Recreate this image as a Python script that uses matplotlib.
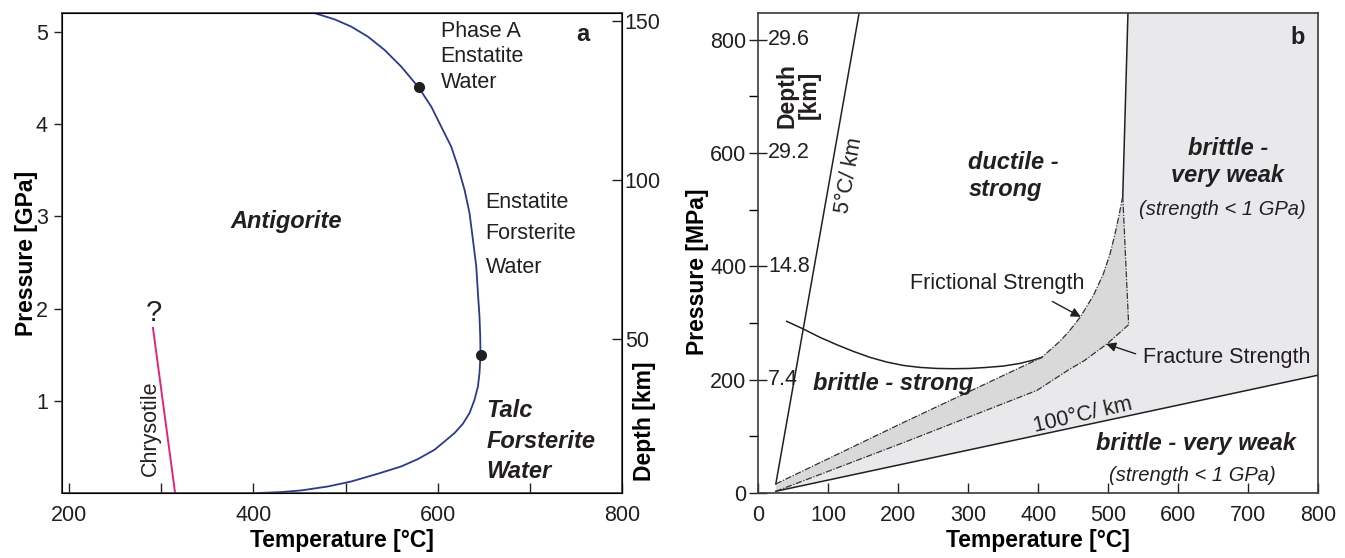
import matplotlib
matplotlib.use("Agg")
import matplotlib.pyplot as plt
import numpy as np

plt.rcParams['font.family'] = ['Liberation Sans', 'DejaVu Sans']

# ---- panel a: serpentine stability ----
antig_T = [405, 430, 452, 481.0, 506.2, 535.1, 560.4, 578.5, 596.5, 607.4, 618.2, 627.3, 634.5,
           639.9, 643.6, 645.3, 646.4, 646.1, 645.3, 643.6, 641.8, 638.2, 634.5, 629.1, 621.9,
           614.6, 603.8, 593.0, 579.2, 560.4, 542.3, 524.3, 506.2, 488.1, 466]
antig_P = [0.0, 0.01, 0.028, 0.071, 0.125, 0.209, 0.288, 0.368, 0.469, 0.559, 0.650, 0.751, 0.867,
           1.011, 1.155, 1.300, 1.495, 1.697, 1.914, 2.167, 2.456, 2.745, 3.035, 3.287, 3.540,
           3.757, 3.973, 4.190, 4.400, 4.624, 4.805, 4.949, 5.058, 5.137, 5.206]
dot_T = [579.2, 646.4]
dot_P = [4.40, 1.495]
chrys_T = [291, 315]
chrys_P = [1.79, 0.0]
depth_ticks_a = [50, 100, 150]

# ---- panel b: strength regimes ----
grad5_T = [25, 144]
grad5_P = [16, 847]
grad100_T = [25, 800]
grad100_P = [3, 208]
bd_T = [40.6, 64.3, 88.1, 112, 135.7, 159.6, 183.4, 207.1, 231, 254.9, 278.6, 302.4, 326.3,
        350, 373.9, 392.9, 404.9]
bd_P = [302.9, 289.4, 274.6, 261.7, 249.9, 239.3, 231.1, 225.1, 221.6, 219.8, 219.3, 219.8,
        221.6, 224, 228.7, 234.6, 239.3]
fric_T = [25, 207.6, 404.9, 431, 445, 459.6, 478.6, 492.9, 502.4, 509.6, 515.7, 520.6]
fric_P = [16, 124.6, 239.3, 268, 287, 310, 348.4, 386.7, 422, 457.5, 492.8, 524]
fract_T = [25, 207.6, 398, 445, 465, 498, 529]
fract_P = [3, 89, 181, 218.7, 233, 263, 297]
edge_T = [528, 520.6]     # solid boundary from top down
edge_P = [847, 524]
depth_P = [200, 400, 600, 800]
depth_lbl = ['7.4', '14.8', '29.2', '29.6']

light = '#e9e9ec'
dark = '#d9d9d9'
ink = '#231f20'
dashdot = (0, (5, 1.3, 1, 1.3))

fig = plt.figure(figsize=(13.45, 5.58), dpi=100)
axa = fig.add_axes([0.0459, 0.1165, 0.4166, 0.8602])
axb = fig.add_axes([0.5638, 0.1165, 0.4164, 0.8602])

for ax in (axa, axb):
    for s in ax.spines.values():
        s.set_linewidth(1.2)
        s.set_color('#3a3a3a')

# ---------- panel a ----------
axa.plot(antig_T, antig_P, color='#2a3a8c', lw=1.3)
axa.plot(dot_T, dot_P, 'o', color=ink, ms=7)
axa.plot(chrys_T, chrys_P, color='#e2257b', lw=1.4)
axa.set_xlim(192, 800)
axa.set_ylim(0, 5.206)
axa.set_xticks([200, 400, 600, 800])
axa.set_xticks([300, 500, 700], minor=True)
axa.set_yticks([1, 2, 3, 4, 5])
axa.tick_params(axis='x', which='both', direction='in', length=7, width=1, labelsize=15.5, pad=9, colors=ink)
axa.tick_params(axis='y', direction='out', length=6, width=1, labelsize=15.5, pad=4, colors=ink)
axa.set_xlabel('Temperature [°C]', fontsize=16.5, fontweight='bold', labelpad=2)
axa.set_ylabel('Pressure [GPa]', fontsize=16.5, fontweight='bold')
axa.yaxis.set_label_coords(-0.043, 0.5)

ax2 = axa.twinx()
ax2.set_ylim(1.72, 152.4)
ax2.set_yticks(depth_ticks_a)
ax2.tick_params(axis='y', direction='in', length=7, width=1, labelsize=15.5, pad=2, colors=ink)
ax2.set_ylabel('Depth [km]', fontsize=16.5, fontweight='bold')
ax2.yaxis.set_label_coords(1.02, 0.15)

txt = dict(fontsize=15.5, color=ink)
bi = dict(fontsize=17, fontweight='bold', fontstyle='italic', color=ink)
axa.text(603, 5.0, 'Phase A', va='center', **txt)
axa.text(603, 4.73, 'Enstatite', va='center', **txt)
axa.text(603, 4.45, 'Water', va='center', **txt)
axa.text(652, 3.15, 'Enstatite', va='center', **txt)
axa.text(652, 2.81, 'Forsterite', va='center', **txt)
axa.text(652, 2.45, 'Water', va='center', **txt)
axa.text(436, 2.95, 'Antigorite', ha='center', va='center', **bi)
axa.text(653, 0.895, 'Talc', va='center', **bi)
axa.text(653, 0.56, 'Forsterite', va='center', **bi)
axa.text(653, 0.23, 'Water', va='center', **bi)
axa.text(758, 4.97, 'a', ha='center', va='center', fontsize=17, fontweight='bold', color=ink)
axa.text(291.6, 1.95, '?', ha='center', va='center', fontsize=21, color=ink)
axa.text(288, 0.70, 'Chrysotile', ha='center', va='center', rotation=90, **txt)

# ---------- panel b ----------
poly_lo_T = np.concatenate([grad100_T, [800, 800], edge_T, fract_T[::-1]])
poly_lo_P = np.concatenate([grad100_P, [208, 847], edge_P, fract_P[::-1]])
axb.fill(poly_lo_T, poly_lo_P, color=light, lw=0, zorder=0)
poly_hi_T = np.concatenate([fric_T, fract_T[::-1]])
poly_hi_P = np.concatenate([fric_P, fract_P[::-1]])
axb.fill(poly_hi_T, poly_hi_P, color=dark, lw=0, zorder=0.5)

axb.plot(grad5_T, grad5_P, color=ink, lw=1.1)
axb.plot(grad100_T, grad100_P, color=ink, lw=1.1)
axb.plot(bd_T, bd_P, color=ink, lw=1.1)
axb.plot(edge_T, edge_P, color=ink, lw=1.1)
axb.plot(fric_T, fric_P, color='#333333', lw=0.9, ls=dashdot)
axb.plot(fract_T, fract_P, color='#333333', lw=0.9, ls=dashdot)
axb.plot([fric_T[-1], fract_T[-1]], [fric_P[-1], fract_P[-1]], color='#333333', lw=0.9, ls=dashdot)

axb.set_xlim(0, 800)
axb.set_ylim(0, 847)
axb.set_xticks(range(0, 801, 100))
axb.set_yticks([0, 200, 400, 600, 800])
axb.set_yticks([100, 300, 500, 700], minor=True)
axb.tick_params(axis='x', direction='in', length=7, width=1, labelsize=15.5, pad=9, colors=ink)
axb.tick_params(axis='y', which='major', direction='inout', length=13, width=1, labelsize=15.5, pad=2, colors=ink)
axb.tick_params(axis='y', which='minor', direction='out', length=6.5, width=1)
axb.set_xlabel('Temperature [°C]', fontsize=16.5, fontweight='bold', labelpad=2)
axb.set_ylabel('Pressure [MPa]', fontsize=16.5, fontweight='bold')
axb.yaxis.set_label_coords(-0.088, 0.46)

for p, lbl in zip(depth_P, depth_lbl):
    axb.text(14, p, lbl, ha='left', va='center', **txt)
axb.text(56.7, 702, 'Depth\n[km]', ha='center', va='center', rotation=90,
         fontsize=16.5, fontweight='bold', color=ink, linespacing=1.0)

axb.text(771, 803, 'b', ha='center', va='center', fontsize=17, fontweight='bold', color=ink)
axb.text(300, 583, 'ductile -', va='center', **bi)
axb.text(300, 536, 'strong', va='center', **bi)
axb.text(670.6, 608, 'brittle -', ha='center', va='center', **bi)
axb.text(670.6, 561, 'very weak', ha='center', va='center', **bi)
axb.text(663, 501, '(strength < 1 GPa)', ha='center', va='center', fontsize=14.5, fontstyle='italic', color=ink)
axb.text(192, 194, 'brittle - strong', ha='center', va='center', **bi)
axb.text(625, 88, 'brittle - very weak', ha='center', va='center', **bi)
axb.text(620, 30, '(strength < 1 GPa)', ha='center', va='center', fontsize=14.5, fontstyle='italic', color=ink)
axb.text(463, 137, '100°C/ km', ha='center', va='center', rotation=13, **txt)
axb.text(130.5, 561, '5°C/ km', ha='center', va='center', rotation=80, **txt)
axb.text(341, 369, 'Frictional Strength', ha='center', va='center', **txt)
axb.text(549, 238.5, 'Fracture Strength', ha='left', va='center', **txt)
arrow = dict(arrowstyle='-|>', color=ink, lw=1.0, mutation_scale=14, shrinkA=0, shrinkB=0)
axb.annotate('', xy=(460.6, 310.8), xytext=(420, 338), arrowprops=arrow)
axb.annotate('', xy=(497, 263), xytext=(539, 245.6), arrowprops=arrow)

fig.savefig('out.png', dpi=100)
